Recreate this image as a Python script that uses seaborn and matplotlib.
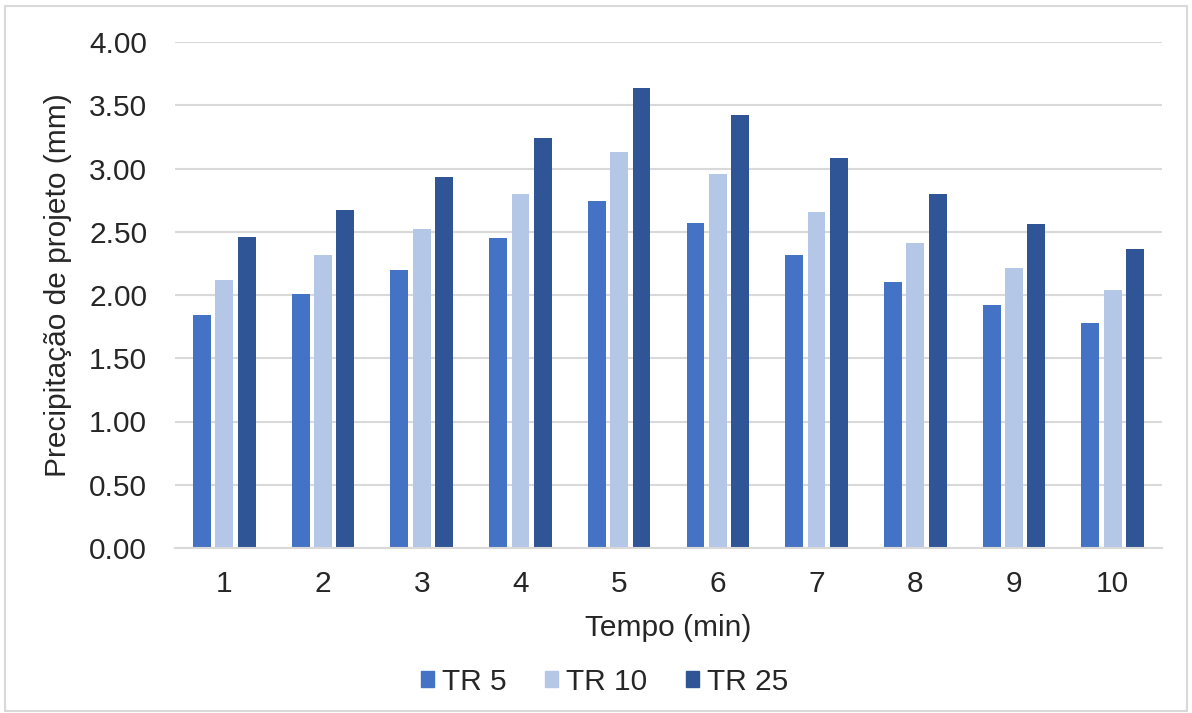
import pandas as pd
import matplotlib.pyplot as plt
import seaborn as sns
from matplotlib.patches import Rectangle

# values
tempo = [1, 2, 3, 4, 5, 6, 7, 8, 9, 10]
tr5 = [1.84, 2.01, 2.20, 2.45, 2.74, 2.57, 2.32, 2.10, 1.92, 1.78]
tr10 = [2.12, 2.32, 2.52, 2.80, 3.13, 2.96, 2.66, 2.41, 2.21, 2.04]
tr25 = [2.46, 2.67, 2.93, 3.24, 3.64, 3.42, 3.08, 2.80, 2.56, 2.36]
series = ['TR 5', 'TR 10', 'TR 25']
colors = ['#4472C4', '#B4C7E7', '#2F5597']

df = pd.DataFrame({
    'tempo': tempo * 3,
    'serie': [s for s in series for _ in tempo],
    'valor': tr5 + tr10 + tr25,
})

sns.set_style('white')
plt.rcParams['font.family'] = ['Liberation Sans', 'DejaVu Sans']
text_color = '#262626'
grid_color = '#D9D9D9'
fs = 21.5

fig = plt.figure(figsize=(11.92, 7.13), dpi=100)
ax = fig.add_axes([175 / 1192, 1 - 548 / 713, (1162 - 175) / 1192, (548 - 42) / 713])

sns.barplot(data=df, x='tempo', y='valor', hue='serie', palette=colors,
            saturation=1, width=0.68, gap=0.2, linewidth=0, ax=ax, legend=False)

ax.set_ylim(0, 4)
ax.set_yticks([i * 0.5 for i in range(9)])
ax.set_yticklabels([f'{i * 0.5:.2f}' for i in range(9)])
ax.yaxis.grid(True, color=grid_color, linewidth=1.5)
ax.set_axisbelow(True)
for side in ['top', 'right', 'left']:
    ax.spines[side].set_visible(False)
ax.spines['bottom'].set_color(grid_color)
ax.spines['bottom'].set_linewidth(1.5)
ax.tick_params(axis='both', length=0, labelsize=fs, colors=text_color)
ax.tick_params(axis='y', pad=20)
ax.tick_params(axis='x', pad=16)

ax.set_xlabel('Tempo (min)', fontsize=fs, color=text_color, labelpad=11)
ax.set_ylabel('Precipitação de projeto (mm)', fontsize=fs, color=text_color)
ax.yaxis.set_label_coords(-0.104, 0.52)

handles = [Rectangle((0, 0), 1, 1, color=c) for c in colors]
fig.legend(handles, series, loc='center', bbox_to_anchor=(0.507, 0.044), ncol=3,
           frameon=False, fontsize=fs, handlelength=0.45, handleheight=0.45,
           handletextpad=0.25, columnspacing=1.3, labelcolor=text_color)

# light border around the chart area
fig.patches.append(Rectangle((5 / 1192, 2 / 713), 1182 / 1192, 705 / 713,
                             transform=fig.transFigure, fill=False,
                             edgecolor=grid_color, linewidth=1.5))

fig.savefig('out.png', dpi=100)
